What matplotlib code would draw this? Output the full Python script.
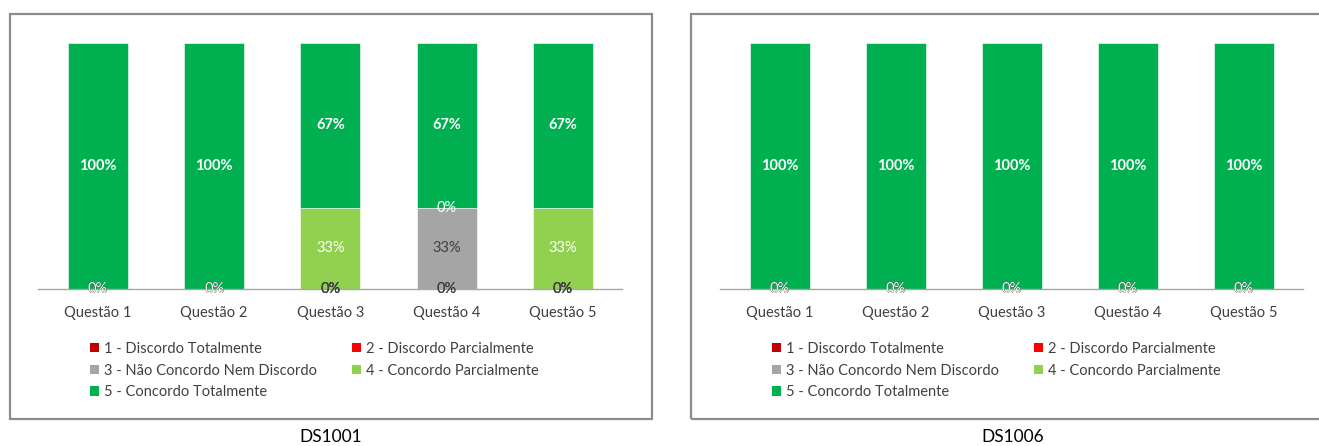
import matplotlib.pyplot as plt
from matplotlib.patches import Patch, Rectangle

plt.rcParams['font.family'] = ['Lato', 'DejaVu Sans']

questions = ["Questão 1", "Questão 2", "Questão 3", "Questão 4", "Questão 5"]
series_names = [
    "1 - Discordo Totalmente",
    "2 - Discordo Parcialmente",
    "3 - Não Concordo Nem Discordo",
    "4 - Concordo Parcialmente",
    "5 - Concordo Totalmente",
]
colors = ["#C00000", "#FF0000", "#A5A5A5", "#92D050", "#00B050"]
label_colors = ["#404040", "#404040", "#404040", "white", "white"]

# DS1001 shares per answer option
ds1001_s1 = [0, 0, 0, 0, 0]
ds1001_s2 = [0, 0, 0, 0, 0]
ds1001_s3 = [0, 0, 0, 0.33, 0]
ds1001_s4 = [0, 0, 0.33, 0, 0.33]
ds1001_s5 = [1.0, 1.0, 0.67, 0.67, 0.67]

# DS1006 shares per answer option
ds1006_s1 = [0, 0, 0, 0, 0]
ds1006_s2 = [0, 0, 0, 0, 0]
ds1006_s3 = [0, 0, 0, 0, 0]
ds1006_s4 = [0, 0, 0, 0, 0]
ds1006_s5 = [1.0, 1.0, 1.0, 1.0, 1.0]

W, H = 1319, 446
fig = plt.figure(figsize=(W / 100, H / 100), dpi=100)


def px(x0, y0, x1, y1):
    # pixel box (top-left origin) -> figure fraction rect
    return [x0 / W, 1 - y1 / H, (x1 - x0) / W, (y1 - y0) / H]


def draw_panel(ax_box, frame_box, title, title_x, data):
    # grey frame around each chart
    fx0, fy0, fx1, fy1 = frame_box
    fig.patches.append(Rectangle((fx0 / W, 1 - fy1 / H), (fx1 - fx0) / W, (fy1 - fy0) / H,
                                 transform=fig.transFigure, fill=False,
                                 edgecolor="#8C8C8C", linewidth=1.6))
    ax = fig.add_axes(px(*ax_box))
    x = list(range(len(questions)))
    bottom = [0] * len(questions)
    for vals, c, lc, name, i in zip(data, colors, label_colors, series_names, range(5)):
        bars = ax.bar(x, vals, width=0.516, bottom=bottom, color=c,
                      edgecolor="white", linewidth=0.4, label=name)
        ax.bar_label(bars, labels=["{:.0%}".format(v) for v in vals],
                     label_type="center", color=lc, fontsize=10.5,
                     fontweight="bold" if i == 4 else "normal")
        bottom = [b + v for b, v in zip(bottom, vals)]
    ax.set_xlim(-0.516, 4.51)
    ax.set_ylim(0, 1)
    ax.set_xticks(x)
    ax.set_xticklabels(questions, fontsize=10.5, color="#404040")
    ax.set_yticks([])
    ax.tick_params(axis="x", length=0, pad=12)
    for s in ["top", "right", "left"]:
        ax.spines[s].set_visible(False)
    ax.spines["bottom"].set_color("#A6A6A6")
    ax.spines["bottom"].set_linewidth(1.0)

    handles = [Patch(facecolor=c, edgecolor="none") for c in colors]
    order = [0, 2, 4, 1, 3]
    leg = ax.legend([handles[k] for k in order], [series_names[k] for k in order],
                    ncol=2, loc="upper left",
                    bbox_to_anchor=((ax_box[0] + 52) / W, 1 - 342 / H),
                    bbox_transform=fig.transFigure, frameon=False,
                    fontsize=10.5, handlelength=0.6, handleheight=0.6,
                    handletextpad=0.35, columnspacing=2.4, labelspacing=0.52,
                    borderpad=0, borderaxespad=0)
    for t in leg.get_texts():
        t.set_color("#404040")
    fig.text(title_x / W, 1 - 437 / H, title, ha="center", va="center",
             fontsize=12.5, color="black")


draw_panel((38, 43, 622, 289), (10, 14, 652, 419), "DS1001", 331,
           [ds1001_s1, ds1001_s2, ds1001_s3, ds1001_s4, ds1001_s5])
draw_panel((720, 43, 1303, 289), (691, 14, 1340, 419), "DS1006", 1013,
           [ds1006_s1, ds1006_s2, ds1006_s3, ds1006_s4, ds1006_s5])

fig.savefig("out.png", dpi=100)
